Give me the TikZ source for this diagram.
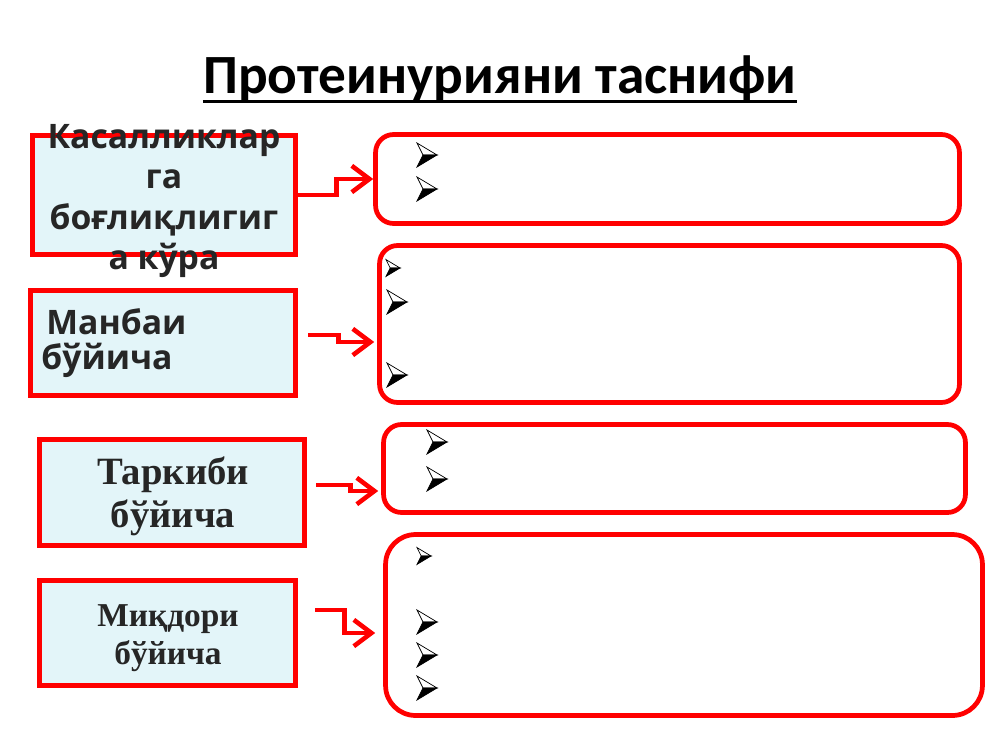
\documentclass[tikz,border=0pt]{standalone}
\usepackage{fontspec}
\usetikzlibrary{arrows.meta}
\newfontfamily\titlefont{Carlito}
\newfontfamily\osans{Open Sans}
\newfontfamily\tserif{Liberation Serif}
\definecolor{boxfill}{HTML}{E3F5F9}
\definecolor{boxtext}{HTML}{262626}

\begin{document}
\begin{tikzpicture}[x=0.02cm,y=-0.02cm,
	lbox/.style={draw=red,line width=3.2pt,fill=boxfill,inner sep=0pt},
	rbox/.style={draw=red,line width=2.7pt,fill=white,rounded corners=0.36cm,inner sep=0pt},
	ltext/.style={text=boxtext,inner sep=0pt,align=center},
	conn/.style={draw=red,line width=2.6pt,-{Straight Barb[length=10pt,width=15pt]}},
	bul/.pic={
		\filldraw[line width=0.4pt,fill=white] (10,0) -- (-10,-12) -- (-4,0) -- cycle;
		\filldraw[line width=0.4pt] (10,0) -- (-4,0) -- (-10,12) -- cycle;
	}]
	\path[use as bounding box,fill=white] (0,0) rectangle (1000,750);

	\node[inner sep=0pt,anchor=base,font=\titlefont\bfseries\fontsize{31.5}{36}\selectfont] (title) at (500,93) {Протеинурияни таснифи};
	\draw[line width=1.6pt] ([yshift=-5pt]title.base west) -- ([yshift=-5pt]title.base east);

	\node[lbox,minimum width=5.26cm,minimum height=2.38cm] (kas) at (164,195) {};
	\node[lbox,minimum width=5.3cm,minimum height=2.1cm] (man) at (163,343) {};
	\node[lbox,minimum width=5.3cm,minimum height=2.12cm] (tar) at (172,492.5) {};
	\node[lbox,minimum width=5.12cm,minimum height=2.1cm] (miq) at (167.5,633) {};

	\node[ltext,font=\osans\bfseries\fontsize{19.2}{23}\selectfont] (kas-t) at (164,201) {Касалликлар\\га\\боғлиқлигиг\\а кўра};
	\node[ltext,align=left,anchor=west,font=\osans\bfseries\fontsize{19.2}{19.5}\selectfont] (man-t) at (41,343) {\hspace*{0.1cm}Манбаи\\бўйича};
	\node[ltext,font=\tserif\bfseries\fontsize{22}{24.5}\selectfont] (tar-t) at (173,496) {Таркиби\\бўйича};
	\node[ltext,font=\tserif\bfseries\fontsize{19}{22}\selectfont] (miq-t) at (168,638) {Миқдори\\бўйича};

	\node[rbox,minimum width=11.68cm,minimum height=1.78cm] (r1) at (667.5,179) {};
	\node[rbox,minimum width=11.6cm,minimum height=3.14cm] (r2) at (669.5,324) {};
	\node[rbox,minimum width=11.64cm,minimum height=1.76cm] (r3) at (674.5,468.5) {};
	\node[rbox,minimum width=11.94cm,minimum height=3.62cm,rounded corners=0.6cm] (r4) at (684,625) {};

	\draw[conn] (kas.east) -- ++(38,0) |- (r1.west);
	\draw[conn] ([shift={(10,-8)}]man.east) -- ++(30,0) |- ([shift={(-3,18)}]r2.west);
	\draw[conn] ([shift={(9,-7.5)}]tar.east) -- ++(34,0) |- ([shift={(-3,22.5)}]r3.west);
	\draw[conn] ([shift={(17,-23)}]miq.east) -- ++(29,0) |- ([shift={(-8,0)}]miq.east -| r4.west);

	\pic at (427,155) {bul};
	\pic at (427,189) {bul};
	\pic[scale=0.7] at (393,268) {bul};
	\pic at (397,302) {bul};
	\pic at (397,375) {bul};
	\pic at (437,442) {bul};
	\pic at (437,479) {bul};
	\pic[scale=0.7] at (424,556) {bul};
	\pic at (427,622) {bul};
	\pic at (427,655) {bul};
	\pic at (427,688) {bul};
\end{tikzpicture}
\end{document}
